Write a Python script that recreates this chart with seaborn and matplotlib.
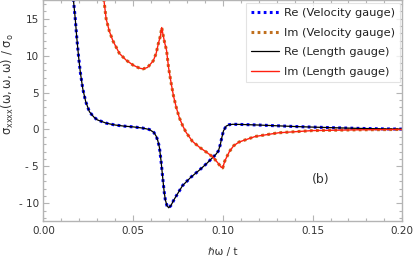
import matplotlib
matplotlib.use("Agg")
import matplotlib.pyplot as plt
import seaborn as sns
from matplotlib.ticker import MultipleLocator, FixedLocator

# Re part (velocity and length gauge coincide)
re_x = [0.0160, 0.0167, 0.0177, 0.0186, 0.0195, 0.0205, 0.0219, 0.0235, 0.0256, 0.028,
        0.030, 0.035, 0.040, 0.045, 0.050, 0.055, 0.059, 0.0615, 0.0628, 0.0637,
        0.0646, 0.0655, 0.0664, 0.0672, 0.0679, 0.0688, 0.0698, 0.0710, 0.0730, 0.0755,
        0.0775, 0.0820, 0.0869, 0.0910, 0.0943, 0.0960, 0.0975, 0.0985, 0.0993, 0.1003,
        0.1018, 0.1035, 0.1055, 0.110, 0.120, 0.130, 0.140, 0.150, 0.160, 0.175,
        0.190, 0.200]
re_y = [20.0, 17.5, 15.0, 12.3, 10.0, 7.8, 5.5, 3.8, 2.4, 1.7,
        1.3, 0.85, 0.6, 0.45, 0.35, 0.2, 0.0, -0.4, -0.9, -1.5,
        -2.4, -4.2, -6.4, -8.3, -9.5, -10.3, -10.6, -10.3, -9.4, -8.4,
        -7.6, -6.5, -5.5, -4.6, -3.8, -3.4, -2.9, -2.1, -1.2, -0.2,
        0.45, 0.65, 0.7, 0.68, 0.6, 0.5, 0.4, 0.32, 0.25, 0.15,
        0.08, 0.05]

# Im part
im_x = [0.0325, 0.0337, 0.0349, 0.0367, 0.0387, 0.0423, 0.046, 0.050, 0.0535, 0.0555,
        0.0580, 0.0612, 0.0628, 0.0640, 0.0652, 0.0659, 0.0665, 0.0675, 0.0686, 0.0697,
        0.0712, 0.0725, 0.0740, 0.0757, 0.0776, 0.0795, 0.0830, 0.0869, 0.0910, 0.0943,
        0.0971, 0.0990, 0.0999, 0.1010, 0.1036, 0.1060, 0.1090, 0.1180, 0.1310, 0.1500,
        0.1750, 0.2000]
im_y = [20.0, 17.5, 15.0, 13.3, 12.0, 10.3, 9.4, 8.7, 8.3, 8.2,
        8.4, 9.3, 10.3, 11.6, 12.7, 13.8, 13.0, 11.8, 10.7, 8.4,
        6.2, 4.5, 3.0, 1.6, 0.5, -0.4, -1.6, -2.4, -3.1, -3.7,
        -4.5, -5.1, -5.2, -4.3, -3.0, -2.2, -1.7, -0.95, -0.45, -0.15,
        -0.05, 0.0]

labels = ["Re (Velocity gauge)", "Im (Velocity gauge)",
          "Re (Length gauge)", "Im (Length gauge)"]
x_ticks = [0.00, 0.05, 0.10, 0.15, 0.20]
x_ticklabels = ["0.00", "0.05", "0.10", "0.15", "0.20"]
y_ticks = [-10, -5, 0, 5, 10, 15]
y_ticklabels = ["- 10", "- 5", "0", "5", "10", "15"]

sns.set_style("ticks")
plt.rcParams['font.family'] = ['DejaVu Sans']
plt.rcParams['mathtext.fontset'] = 'dejavusans'

frame_col = "#b4b4b4"
text_col = "#333333"

fig = plt.figure(figsize=(4.15, 2.61), dpi=100)
ax = fig.add_axes([0.1048, 0.1544, 0.8646, 0.8440])

sns.lineplot(x=re_x, y=re_y, ax=ax, color="#0000ff", lw=2.2,
             linestyle=(0, (0.9, 1.1)), label=labels[0], sort=False)
sns.lineplot(x=im_x, y=im_y, ax=ax, color="#c0701e", lw=2.2,
             linestyle=(0, (0.9, 1.1)), label=labels[1], sort=False)
sns.lineplot(x=re_x, y=re_y, ax=ax, color="black", lw=0.9,
             label=labels[2], sort=False)
sns.lineplot(x=im_x, y=im_y, ax=ax, color="#ff2010", lw=1.0,
             label=labels[3], sort=False)

ax.set_xlim(0, 0.2)
ax.set_ylim(-12.35, 17.47)
ax.xaxis.set_major_locator(FixedLocator(x_ticks))
ax.set_xticklabels(x_ticklabels)
ax.yaxis.set_major_locator(FixedLocator(y_ticks))
ax.set_yticklabels(y_ticklabels)
ax.xaxis.set_minor_locator(MultipleLocator(0.01))
ax.yaxis.set_minor_locator(MultipleLocator(1))
ax.tick_params(which="both", direction="in", top=True, right=True,
               color=frame_col, width=0.8, labelsize=7.5, labelcolor=text_col)
ax.tick_params(which="major", length=4)
ax.tick_params(which="minor", length=2)
for sp in ax.spines.values():
    sp.set_color(frame_col)
    sp.set_linewidth(1.0)

ax.set_xlabel("ℏω / t", fontsize=7.5, color=text_col, labelpad=8)
ax.set_ylabel(r"$\mathregular{\sigma_{xxxx}(\omega,\omega,\omega)\ /\ \sigma_o}$",
              fontsize=8.3, color=text_col)
ax.yaxis.set_label_coords(-0.078, 0.62)

ax.text(0.1544, -6.8, "(b)", fontsize=9, color=text_col,
        ha="center", va="center")

leg = ax.legend(loc="upper right", fontsize=8.2, frameon=True,
                handlelength=2.45, handletextpad=0.45, labelspacing=0.85,
                borderaxespad=0.2, borderpad=0.45, fancybox=False)
leg.get_frame().set_edgecolor("#dddddd")
leg.get_frame().set_linewidth(0.8)
for t in leg.get_texts():
    t.set_color("#222222")

fig.savefig("out.png", dpi=100)
